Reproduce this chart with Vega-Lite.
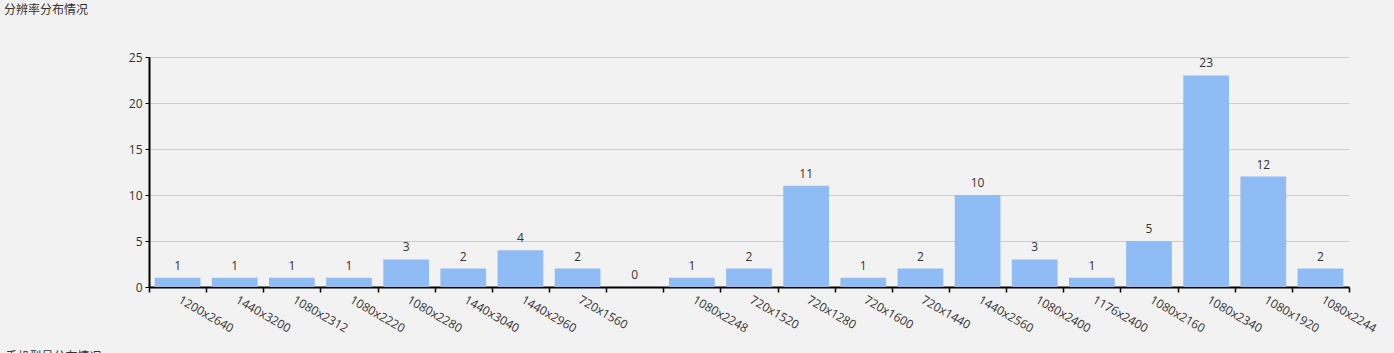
{
  "$schema": "https://vega.github.io/schema/vega-lite/v6.json",
  "width": 1200,
  "height": 230,
  "autosize": {"type": "none"},
  "padding": {"left": 149, "top": 57, "right": 45, "bottom": 66},
  "background": "#f2f2f2",
  "title": {
    "text": "分辨率分布情况",
    "anchor": "start",
    "frame": "group",
    "dx": -145,
    "offset": 34,
    "font": "Noto Sans CJK SC",
    "fontSize": 12,
    "fontWeight": "normal",
    "color": "#333333"
  },
  "config": {
    "view": {"stroke": null},
    "font": "Open Sans",
    "axis": {
      "labelFont": "Open Sans",
      "labelFontSize": 12,
      "labelColor": "#333333",
      "titleFontSize": 12
    }
  },
  "data": {
    "values": [
      {"res": "1200x2640", "count": 1},
      {"res": "1440x3200", "count": 1},
      {"res": "1080x2312", "count": 1},
      {"res": "1080x2220", "count": 1},
      {"res": "1080x2280", "count": 3},
      {"res": "1440x3040", "count": 2},
      {"res": "1440x2960", "count": 4},
      {"res": "720x1560", "count": 2},
      {"res": " ", "count": 0},
      {"res": "1080x2248", "count": 1},
      {"res": "720x1520", "count": 2},
      {"res": "720x1280", "count": 11},
      {"res": "720x1600", "count": 1},
      {"res": "720x1440", "count": 2},
      {"res": "1440x2560", "count": 10},
      {"res": "1080x2400", "count": 3},
      {"res": "1176x2400", "count": 1},
      {"res": "1080x2160", "count": 5},
      {"res": "1080x2340", "count": 23},
      {"res": "1080x1920", "count": 12},
      {"res": "1080x2244", "count": 2}
    ]
  },
  "encoding": {
    "x": {
      "field": "res",
      "type": "nominal",
      "sort": null,
      "scale": {"paddingInner": 0, "paddingOuter": 0},
      "axis": {
        "title": "手机型号分布情况",
        "titleX": -144,
        "titleY": 64,
        "titleAlign": "left",
        "titleAnchor": "start",
        "titleBaseline": "top",
        "titleFont": "Noto Sans CJK SC",
        "titleFontWeight": "normal",
        "titleColor": "#333333",
        "labelAngle": 30,
        "labelAlign": "left",
        "labelBaseline": "top",
        "labelPadding": 2,
        "tickBand": "extent",
        "labelOffset": 4,
        "domainColor": "#000000",
        "domainWidth": 2,
        "tickColor": "#000000",
        "tickWidth": 1.5,
        "tickSize": 5,
        "grid": false
      }
    },
    "y": {
      "field": "count",
      "type": "quantitative",
      "scale": {"domain": [0, 25], "nice": false},
      "axis": {
        "title": null,
        "values": [0, 5, 10, 15, 20, 25],
        "domainColor": "#000000",
        "domainWidth": 2,
        "tickColor": "#000000",
        "tickSize": 4,
        "labelPadding": 3,
        "grid": true,
        "gridColor": "#cccccc",
        "gridWidth": 1
      }
    }
  },
  "layer": [
    {"mark": {"type": "bar", "color": "#90bcf5", "width": {"band": 0.8}}},
    {
      "mark": {"type": "text", "dy": -12, "fontSize": 12, "color": "#333333", "font": "Open Sans"},
      "encoding": {"text": {"field": "count", "type": "quantitative"}}
    }
  ]
}
